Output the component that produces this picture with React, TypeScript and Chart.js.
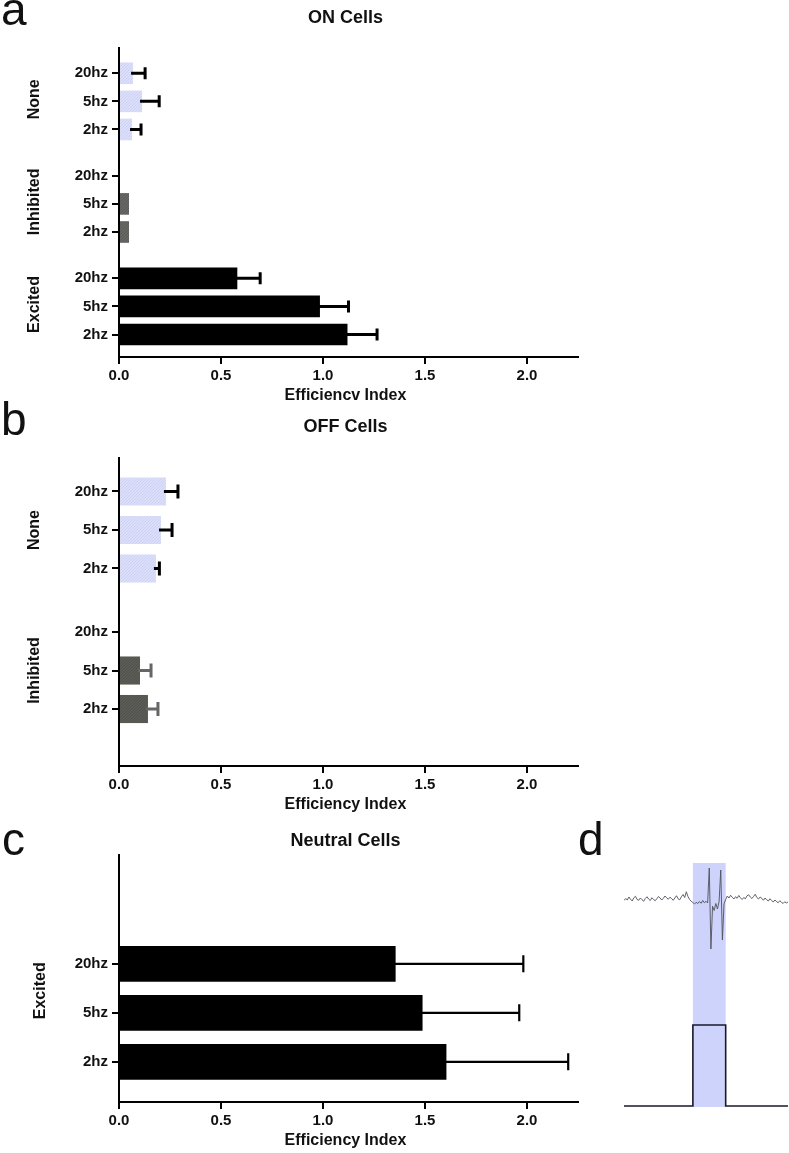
import React, { useEffect, useRef } from "react";
import { Chart, registerables } from "chart.js";

Chart.register(...registerables);

const FONT = "'Liberation Sans', Arial, Helvetica, sans-serif";

// ---------- data ----------
const FREQS = ["2hz", "5hz", "20hz"];
const X_TICKS = [0, 0.5, 1.0, 1.5, 2.0];
const X_MAX = 2.25;

// a: ON cells (values ordered 2hz, 5hz, 20hz)
const ON_EXCITED = [1.12, 0.985, 0.58];
const ON_EXCITED_ERR = [0.145, 0.14, 0.112];
const ON_INHIBITED = [0.049, 0.049, 0];
const ON_INHIBITED_ERR = [0, 0, 0];
const ON_NONE = [0.064, 0.113, 0.069];
const ON_NONE_ERR = [0.044, 0.084, 0.059];

// b: OFF cells
const OFF_INHIBITED = [0.142, 0.103, 0];
const OFF_INHIBITED_ERR = [0.049, 0.054, 0];
const OFF_NONE = [0.181, 0.206, 0.23];
const OFF_NONE_ERR = [0.017, 0.054, 0.059];

// c: Neutral cells
const NEUTRAL_EXCITED = [1.605, 1.488, 1.356];
const NEUTRAL_EXCITED_ERR = [0.597, 0.474, 0.626];

// d: example recording (time 0..100, one sample per unit)
const TRACE_V = [
  83.8, 84.6, 84.0, 85.2, 84.3, 83.6, 84.9, 85.5, 84.2, 83.9,
  84.8, 84.1, 83.5, 84.6, 85.3, 84.4, 83.8, 84.9, 84.2, 83.7,
  84.5, 85.4, 84.8, 84.0, 84.7, 85.6, 84.9, 84.3, 85.1, 84.6,
  83.9, 84.8, 85.7, 84.5, 84.1, 85.3, 86.2, 85.0, 87.3, 85.4,
  84.2, 83.5, 83.0, 82.4, 83.1, 82.6, 83.4, 82.7, 83.8, 82.9,
  83.5, 82.8, 96.8, 64.4, 81.5, 79.8, 82.6, 80.4, 83.5, 96.0,
  68.0, 82.5, 84.2, 85.6, 84.8, 85.9, 85.1, 84.4, 85.3, 84.7,
  85.8, 84.9, 84.2, 85.0, 84.5, 85.7, 86.1, 85.2, 84.6, 85.4,
  86.3, 85.0, 84.4, 85.2, 84.7, 83.9, 84.8, 84.1, 83.6, 84.5,
  83.8, 83.2, 84.0, 83.4, 82.9, 83.7, 83.1, 82.6, 83.3, 82.8,
  83.2,
];
const PULSE_T = [0, 42, 42, 62, 62, 100];
const PULSE_V = [1.6, 1.6, 34, 34, 1.6, 1.6];
const STIM_WINDOW = [42, 62];
const STIM_BOX_Y = [1.2, 98.8];

// ---------- helpers ----------
const GROUP_STEP = 3.65;

function makePattern(base: string, dot: string): CanvasPattern | string {
  const c = document.createElement("canvas");
  c.width = 3;
  c.height = 3;
  const g = c.getContext("2d");
  if (!g) return base;
  g.fillStyle = base;
  g.fillRect(0, 0, 3, 3);
  g.fillStyle = dot;
  g.fillRect(0, 0, 1, 1);
  g.fillRect(2, 1, 1, 1);
  g.fillRect(1, 2, 1, 1);
  const p = g.createPattern(c, "repeat");
  return p || base;
}

type Group = {
  name: string;
  values: number[];
  errs: number[];
  color: any;
  errColor: string;
};

type PanelSpec = {
  left: number;
  top: number;
  width: number;
  height: number;
  plotTop: number;
  plotBottom: number;
  plotLeft: number;
  plotRight: number;
  yMax: number;
  base: number;
  barPct: number;
  title: string;
  titleY: number;
  xTitle: string;
  groups: Group[];
  labelX: number;
  labelDy: number;
  errWidth: number;
  capHalf: number;
};

function buildBarConfig(p: PanelSpec): any {
  const points: { x: number; y: number }[] = [];
  const colors: any[] = [];
  const errs: number[] = [];
  const errColors: string[] = [];
  const tickVals: number[] = [];
  const tickLabels: string[] = [];
  p.groups.forEach((g, gi) => {
    g.values.forEach((v, i) => {
      const pos = p.base + gi * GROUP_STEP + i;
      points.push({ x: v, y: pos });
      colors.push(g.color);
      errs.push(g.errs[i]);
      errColors.push(g.errColor);
      tickVals.push(pos);
      tickLabels.push(FREQS[i]);
    });
  });

  const errorBars = {
    id: "errorBars",
    afterDatasetsDraw(chart: any) {
      const meta = chart.getDatasetMeta(0);
      const xs = chart.scales.x;
      const ctx = chart.ctx;
      meta.data.forEach((el: any, i: number) => {
        const e = errs[i];
        if (!e) return;
        const v = points[i].x;
        const x0 = xs.getPixelForValue(v);
        const x1 = xs.getPixelForValue(v + e);
        const y = el.y;
        ctx.save();
        ctx.strokeStyle = errColors[i];
        ctx.lineWidth = p.errWidth;
        ctx.lineCap = "butt";
        ctx.beginPath();
        ctx.moveTo(x0 - 2, y);
        ctx.lineTo(x1, y);
        ctx.moveTo(x1, y - p.capHalf);
        ctx.lineTo(x1, y + p.capHalf);
        ctx.stroke();
        ctx.restore();
      });
    },
  };

  const texts = {
    id: "panelTexts",
    afterDraw(chart: any) {
      const ctx = chart.ctx;
      const ca = chart.chartArea;
      const ys = chart.scales.y;
      const cx = (ca.left + ca.right) / 2 - 3;
      ctx.save();
      ctx.fillStyle = "#111";
      ctx.textAlign = "center";
      ctx.textBaseline = "middle";
      ctx.font = `bold 18px ${FONT}`;
      ctx.fillText(p.title, cx, p.titleY);
      ctx.font = `bold 16px ${FONT}`;
      ctx.fillText(p.xTitle, cx, ca.bottom + 39);
      p.groups.forEach((g, gi) => {
        const y = ys.getPixelForValue(p.base + gi * GROUP_STEP + 1) + p.labelDy;
        ctx.save();
        ctx.translate(p.labelX, y);
        ctx.rotate(-Math.PI / 2);
        ctx.fillText(g.name, 0, 0);
        ctx.restore();
      });
      ctx.restore();
    },
  };

  const tickFont = { family: FONT, size: 15, weight: "bold" as const };
  const grid = {
    display: true,
    drawOnChartArea: false,
    drawTicks: true,
    tickLength: 7,
    color: "#000",
    lineWidth: 2,
    offset: false,
  };
  const border = { display: true, color: "#000", width: 2 };

  return {
    type: "bar",
    data: {
      datasets: [
        {
          data: points,
          backgroundColor: colors,
          borderWidth: 0,
          categoryPercentage: 1,
          barPercentage: p.barPct,
        },
      ],
    },
    options: {
      responsive: false,
      animation: false,
      indexAxis: "y",
      layout: {
        padding: { left: 0, top: p.plotTop, right: p.width - p.plotRight, bottom: 0 },
      },
      plugins: {
        legend: { display: false },
        tooltip: { enabled: false },
        title: { display: false },
      },
      scales: {
        x: {
          type: "linear",
          min: 0,
          max: X_MAX,
          afterFit: (s: any) => {
            s.height = p.height - p.plotBottom;
          },
          afterBuildTicks: (s: any) => {
            s.ticks = X_TICKS.map((v) => ({ value: v }));
          },
          grid,
          border,
          ticks: {
            font: tickFont,
            color: "#111",
            padding: 3,
            maxRotation: 0,
            autoSkip: false,
            callback: (v: any) => Number(v).toFixed(1),
          },
        },
        y: {
          type: "linear",
          min: 0,
          max: p.yMax,
          offset: false,
          afterFit: (s: any) => {
            s.width = p.plotLeft;
          },
          afterBuildTicks: (s: any) => {
            s.ticks = tickVals.map((v) => ({ value: v }));
          },
          grid,
          border,
          ticks: {
            font: tickFont,
            color: "#111",
            padding: 4,
            autoSkip: false,
            callback: (v: any) => {
              let best = 0;
              let bd = Infinity;
              tickVals.forEach((t, i) => {
                const d = Math.abs(t - Number(v));
                if (d < bd) {
                  bd = d;
                  best = i;
                }
              });
              return tickLabels[best];
            },
          },
        },
      },
    },
    plugins: [errorBars, texts],
  };
}

function BarPanel({ spec }: { spec: () => PanelSpec }) {
  const ref = useRef<HTMLCanvasElement | null>(null);
  useEffect(() => {
    if (!ref.current) return;
    const chart = new Chart(ref.current, buildBarConfig(spec()));
    return () => chart.destroy();
  }, []);
  const s = spec();
  return (
    <canvas
      ref={ref}
      width={s.width}
      height={s.height}
      style={{ position: "absolute", left: s.left, top: s.top, width: s.width, height: s.height }}
    />
  );
}

function TracePanel() {
  const ref = useRef<HTMLCanvasElement | null>(null);
  useEffect(() => {
    if (!ref.current) return;
    const stimBox = {
      id: "stimBox",
      beforeDatasetsDraw(chart: any) {
        const xs = chart.scales.x;
        const ys = chart.scales.y;
        const ctx = chart.ctx;
        const x0 = xs.getPixelForValue(STIM_WINDOW[0]);
        const x1 = xs.getPixelForValue(STIM_WINDOW[1]);
        const y0 = ys.getPixelForValue(STIM_BOX_Y[1]);
        const y1 = ys.getPixelForValue(STIM_BOX_Y[0]);
        ctx.save();
        ctx.fillStyle = "#cdd3fa";
        ctx.fillRect(x0, y0, x1 - x0, y1 - y0);
        ctx.restore();
      },
    };
    const chart = new Chart(ref.current, {
      type: "line",
      data: {
        datasets: [
          {
            data: TRACE_V.map((v, i) => ({ x: i, y: v })),
            borderColor: "#50505a",
            borderWidth: 0.9,
            pointRadius: 0,
            tension: 0,
          },
          {
            data: PULSE_T.map((t, i) => ({ x: t, y: PULSE_V[i] })),
            borderColor: "#18182c",
            borderWidth: 1.6,
            pointRadius: 0,
            tension: 0,
          },
        ],
      },
      options: {
        responsive: false,
        animation: false,
        layout: { padding: { left: 24, right: 1, top: 10, bottom: 10 } },
        plugins: { legend: { display: false }, tooltip: { enabled: false } },
        scales: {
          x: { type: "linear", min: 0, max: 100, display: false },
          y: { type: "linear", min: 0, max: 100, display: false },
        },
      },
      plugins: [stimBox],
    } as any);
    return () => chart.destroy();
  }, []);
  return (
    <canvas
      ref={ref}
      width={189}
      height={270}
      style={{ position: "absolute", left: 600, top: 850, width: 189, height: 270 }}
    />
  );
}

const noneColor = () => makePattern("#dcdff9", "#cdd1f4");
const inhA = () => makePattern("#676764", "#5a5a57");
const inhB = () => makePattern("#5c5c57", "#50504c");

const specA = (): PanelSpec => ({
  left: 0,
  top: 0,
  width: 600,
  height: 412,
  plotTop: 48,
  plotBottom: 357,
  plotLeft: 119,
  plotRight: 578,
  yMax: 11,
  base: 0.8,
  barPct: 0.77,
  title: "ON Cells",
  titleY: 18,
  xTitle: "Efficiencv Index",
  groups: [
    { name: "Excited", values: ON_EXCITED, errs: ON_EXCITED_ERR, color: "#000", errColor: "#000" },
    { name: "Inhibited", values: ON_INHIBITED, errs: ON_INHIBITED_ERR, color: inhA(), errColor: "#555" },
    { name: "None", values: ON_NONE, errs: ON_NONE_ERR, color: noneColor(), errColor: "#000" },
  ],
  labelX: 35,
  labelDy: -2,
  errWidth: 3,
  capHalf: 6,
});

const specB = (): PanelSpec => ({
  left: 0,
  top: 405,
  width: 600,
  height: 420,
  plotTop: 53,
  plotBottom: 361,
  plotLeft: 119,
  plotRight: 578,
  yMax: 8,
  base: 1.48,
  barPct: 0.73,
  title: "OFF Cells",
  titleY: 22,
  xTitle: "Efficiency Index",
  groups: [
    { name: "Inhibited", values: OFF_INHIBITED, errs: OFF_INHIBITED_ERR, color: inhB(), errColor: "#666" },
    { name: "None", values: OFF_NONE, errs: OFF_NONE_ERR, color: noneColor(), errColor: "#000" },
  ],
  labelX: 35,
  labelDy: 0,
  errWidth: 3,
  capHalf: 7,
});

const specC = (): PanelSpec => ({
  left: 0,
  top: 815,
  width: 600,
  height: 338,
  plotTop: 40,
  plotBottom: 287,
  plotLeft: 119,
  plotRight: 578,
  yMax: 5.04,
  base: 0.82,
  barPct: 0.73,
  title: "Neutral Cells",
  titleY: 26,
  xTitle: "Efficiency Index",
  groups: [
    { name: "Excited", values: NEUTRAL_EXCITED, errs: NEUTRAL_EXCITED_ERR, color: "#000", errColor: "#000" },
  ],
  labelX: 41,
  labelDy: -22,
  errWidth: 2.2,
  capHalf: 8.5,
});

const letterStyle = (left: number, top: number): React.CSSProperties => ({
  position: "absolute",
  left,
  top,
  fontFamily: FONT,
  fontSize: 46,
  lineHeight: "46px",
  color: "#111",
  margin: 0,
});

export default function App() {
  return (
    <div
      style={{
        position: "absolute",
        left: 0,
        top: 0,
        width: 789,
        height: 1153,
        background: "#fff",
        overflow: "hidden",
      }}
    >
      <BarPanel spec={specA} />
      <BarPanel spec={specB} />
      <BarPanel spec={specC} />
      <TracePanel />
      <div style={letterStyle(1, -14)}>a</div>
      <div style={letterStyle(1, 396)}>b</div>
      <div style={letterStyle(2, 816)}>c</div>
      <div style={letterStyle(578, 816)}>d</div>
    </div>
  );
}
